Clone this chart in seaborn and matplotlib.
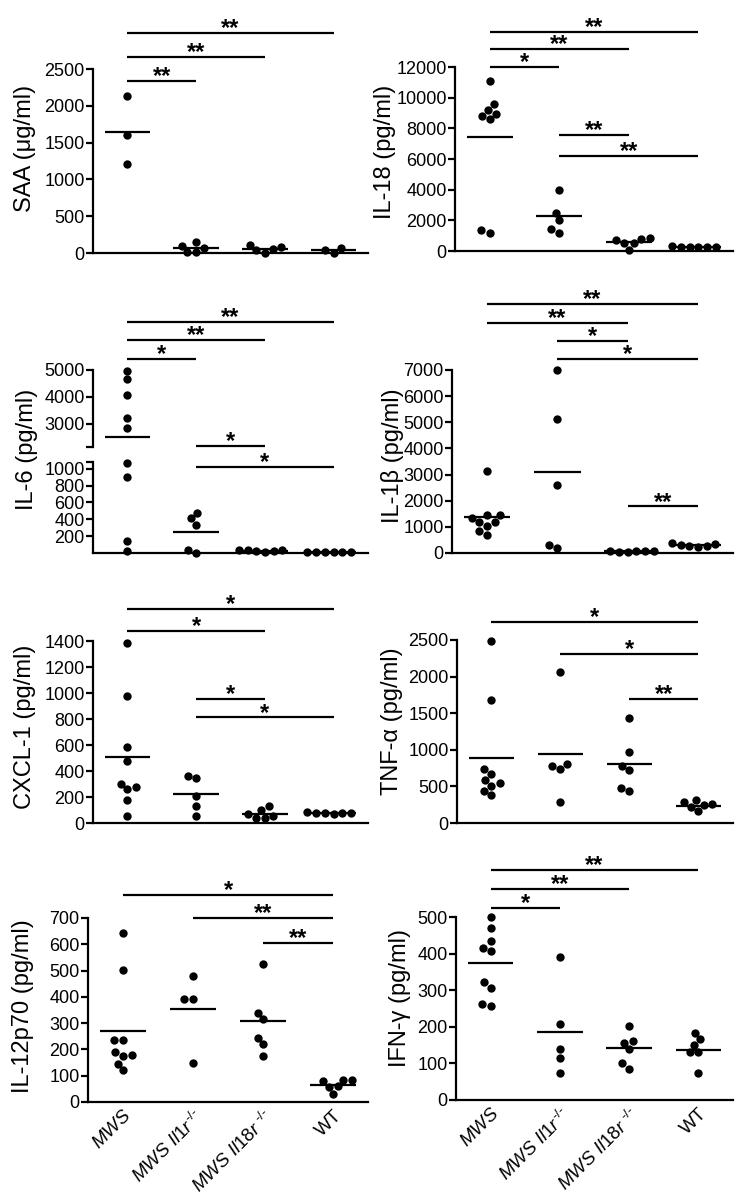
import matplotlib
matplotlib.use('Agg')
import matplotlib.pyplot as plt
import numpy as np
import pandas as pd
import seaborn as sns

sns.set_style('ticks')
plt.rcParams['font.family'] = ['Liberation Sans', 'DejaVu Sans']
plt.rcParams['mathtext.fontset'] = 'custom'
plt.rcParams['mathtext.rm'] = 'Liberation Sans'
plt.rcParams['mathtext.it'] = 'Liberation Sans:italic'
for k in ['text.color', 'axes.labelcolor', 'xtick.color', 'ytick.color', 'axes.edgecolor']:
    plt.rcParams[k] = 'black'

# grupos
groups = ['MWS', 'MWS Il1r-/-', 'MWS Il18r-/-', 'WT']
group_labels = [r'$\mathit{MWS}$', r'$\mathit{MWS\ Il1r}^{\text{-/-}}$',
                r'$\mathit{MWS\ Il18r}^{\text{ -/-}}$', 'WT']

# SAA (ug/ml)
saa_mws = [2130, 1610, 1210]
saa_il1r = [145, 65, 10, 10, 95]
saa_il18r = [110, 55, 5, 35, 80]
saa_wt = [65, 5, 45]
saa_means = [1650, 68, 59, 38]
saa_sig = [(0, 1, 2340, '**'), (0, 2, 2665, '**'), (0, 3, 2990, '**')]

# IL-18
il18_mws = [9200, 11110, 9590, 8830, 8590, 8960, 1200, 1370]
il18_il1r = [3980, 2500, 2000, 1200, 1435]
il18_il18r = [500, 870, 65, 780, 500, 720]
il18_wt = [280, 280, 280, 280, 290, 340]
il18_means = [7410, 2260, 567, 290]
il18_sig = [(0, 1, 12000, '*'), (0, 2, 13170, '**'), (0, 3, 14280, '**'),
            (1, 2, 7560, '**'), (1, 3, 6190, '**')]

# IL-6 (eje cortado)
il6_mws = [4975, 4650, 4060, 3200, 2840, 1067, 902, 145, 20]
il6_il1r = [412, 478, 333, 5, 30]
il6_il18r = [40, 20, 15, 20, 30, 40]
il6_wt = [10, 10, 10, 10, 10, 10]
il6_means = [2490, 251, 25, 10]
il6_sig_up = [(0, 1, 5400, '*'), (0, 2, 6125, '**'), (0, 3, 6810, '**'),
              (1, 2, 2160, '*')]
il6_sig_low = [(1, 3, 1020, '*')]

# IL-1b
il1b_mws = [3150, 1460, 1440, 1350, 1200, 1190, 1040, 850, 700]
il1b_il1r = [7000, 5140, 2610, 180, 290]
il1b_il18r = [60, 50, 55, 60, 65, 80]
il1b_wt = [340, 255, 215, 255, 295, 380]
il1b_means = [1365, 3080, 62, 290]
il1b_sig = [(0, 3, 9520, '**'), (0, 2, 8783, '**'), (1, 2, 8096, '*'),
            (1, 3, 7409, '*'), (2, 3, 1780, '**')]

# CXCL-1
cxcl_mws = [1385, 980, 584, 474, 302, 274, 260, 179, 56]
cxcl_il1r = [346, 358, 210, 133, 51]
cxcl_il18r = [97, 128, 51, 38, 38, 69]
cxcl_wt = [80, 75, 70, 75, 80, 85]
cxcl_means = [504, 223, 69, 78]
cxcl_sig = [(0, 3, 1644, '*'), (0, 2, 1477, '*'), (1, 2, 956, '*'), (1, 3, 812, '*')]

# TNF-a
tnf_mws = [2490, 1682, 741, 591, 509, 545, 673, 441, 377]
tnf_il1r = [2068, 773, 736, 805, 286]
tnf_il18r = [1432, 964, 782, 718, 441, 477]
tnf_wt = [282, 250, 159, 218, 259, 309]
tnf_means = [886, 941, 809, 236]
tnf_sig = [(0, 3, 2741, '*'), (1, 3, 2313, '*'), (2, 3, 1695, '**')]

# IL-12p70
il12_mws = [643, 503, 235, 237, 180, 174, 190, 146, 120]
il12_il1r = [478, 393, 391, 148]
il12_il18r = [526, 340, 315, 245, 219, 174]
il12_wt = [85, 79, 85, 60, 57, 29]
il12_means = [270, 355, 308, 66]
il12_sig = [(0, 3, 789, '*'), (1, 3, 700, '**'), (2, 3, 605, '**')]

# IFN-g
ifn_mws = [500, 470, 434, 406, 416, 323, 307, 256, 262]
ifn_il1r = [391, 207, 139, 114, 75]
ifn_il18r = [203, 157, 138, 161, 86, 100]
ifn_wt = [184, 166, 150, 130, 130, 73]
ifn_means = [375, 186, 141, 136]
ifn_sig = [(0, 3, 628, '**'), (0, 2, 576, '**'), (0, 1, 524, '*')]

W, H = 739, 1204
fig = plt.figure(figsize=(W / 100, H / 100), dpi=100)
TICK = 13


def make_ax(left, right, top, bottom):
    return fig.add_axes([left / W, 1 - bottom / H, (right - left) / W, (bottom - top) / H])


def style(ax, xlabels=False, bottom_spine=True):
    sns.despine(ax=ax)
    ax.spines['left'].set_linewidth(1.6)
    ax.spines['bottom'].set_linewidth(1.6)
    if not bottom_spine:
        ax.spines['bottom'].set_visible(False)
    ax.tick_params(axis='y', length=5, width=1.6, labelsize=TICK, pad=1, color='black')
    ax.tick_params(axis='x', length=0, labelsize=13.5)
    ax.set_xlim(-0.5, 3.5)
    ax.set_xlabel('')
    ax.set_ylabel('')
    ax.set_xticks(range(4))
    if xlabels:
        ax.set_xticklabels(group_labels, rotation=45, ha='right', rotation_mode='anchor')
    else:
        ax.set_xticklabels([])


def dots(ax, values):
    df = pd.DataFrame({'group': np.repeat(groups, [len(v) for v in values]),
                       'value': np.concatenate([np.asarray(v, float) for v in values])})
    sns.swarmplot(data=df, x='group', y='value', order=groups, color='black',
                  size=6, ax=ax, linewidth=0, zorder=3)
    for c in ax.collections:
        c.set_clip_on(False)


def means(ax, vals, idx=range(4)):
    for i in idx:
        ax.plot([i - 0.33, i + 0.33], [vals[i], vals[i]], color='black', lw=1.6,
                solid_capstyle='butt')


def brackets(ax, sig):
    for i, j, y, s in sig:
        ax.plot([i, j], [y, y], color='black', lw=1.6, clip_on=False,
                solid_capstyle='butt')
        ax.annotate(s, xy=((i + j) / 2, y), xytext=(0, -1.5), textcoords='offset points',
                    ha='center', va='baseline', fontsize=17, fontweight='bold',
                    annotation_clip=False)


def panel(box, values, m, sig, ylim, step, ylabel, lab_xy, xlabels=False):
    ax = make_ax(*box)
    dots(ax, values)
    means(ax, m)
    brackets(ax, sig)
    ax.set_ylim(*ylim)
    ax.set_yticks(np.arange(ylim[0], ylim[1] + 1, step))
    style(ax, xlabels)
    fig.text(lab_xy[0] / W, 1 - lab_xy[1] / H, ylabel, rotation=90, ha='center',
             va='center', fontsize=17)
    return ax


panel((93, 368, 69, 253), [saa_mws, saa_il1r, saa_il18r, saa_wt], saa_means, saa_sig,
      (0, 2500), 500, 'SAA (μg/ml)', (25, 148))
panel((455, 733, 67, 251), [il18_mws, il18_il1r, il18_il18r, il18_wt], il18_means, il18_sig,
      (0, 12000), 2000, 'IL-18 (pg/ml)', (385, 152))

# IL-6 con eje cortado
il6_all = [il6_mws, il6_il1r, il6_il18r, il6_wt]
up = make_ax(93, 368, 370, 447)
dots(up, [[v for v in g if v > 2000] for g in il6_all])
up.plot([-0.33, 0.33], [il6_means[0]] * 2, color='black', lw=1.6, solid_capstyle='butt')
brackets(up, il6_sig_up)
up.set_ylim(2125, 5000)
style(up, bottom_spine=False)
up.set_yticks([2125, 3000, 4000, 5000])
up.set_yticklabels(['', '3000', '4000', '5000'])

low = make_ax(93, 368, 462, 553)
dots(low, [[v for v in g if v <= 2000] for g in il6_all])
means(low, il6_means, idx=[1, 2, 3])
brackets(low, il6_sig_low)
low.set_ylim(0, 1080)
style(low)
low.set_yticks([200, 400, 600, 800, 1000, 1080])
low.set_yticklabels(['200', '400', '600', '800', '1000', ''])
fig.text(27 / W, 1 - 449 / H, 'IL-6 (pg/ml)', rotation=90, ha='center', va='center',
         fontsize=17)

panel((452, 733, 370, 553), [il1b_mws, il1b_il1r, il1b_il18r, il1b_wt], il1b_means, il1b_sig,
      (0, 7000), 1000, 'IL-1β (pg/ml)', (393, 456))
panel((93, 368, 641, 823), [cxcl_mws, cxcl_il1r, cxcl_il18r, cxcl_wt], cxcl_means, cxcl_sig,
      (0, 1400), 200, 'CXCL-1 (pg/ml)', (25, 727))
panel((457, 733, 640, 823), [tnf_mws, tnf_il1r, tnf_il18r, tnf_wt], tnf_means, tnf_sig,
      (0, 2500), 500, 'TNF-α (pg/ml)', (392, 721))
panel((88, 368, 918, 1102), [il12_mws, il12_il1r, il12_il18r, il12_wt], il12_means, il12_sig,
      (0, 700), 100, 'IL-12p70 (pg/ml)', (23, 1006), xlabels=True)
panel((456, 733, 917, 1100), [ifn_mws, ifn_il1r, ifn_il18r, ifn_wt], ifn_means, ifn_sig,
      (0, 500), 100, 'IFN-γ (pg/ml)', (400, 998), xlabels=True)

plt.savefig('out.png', dpi=100)
